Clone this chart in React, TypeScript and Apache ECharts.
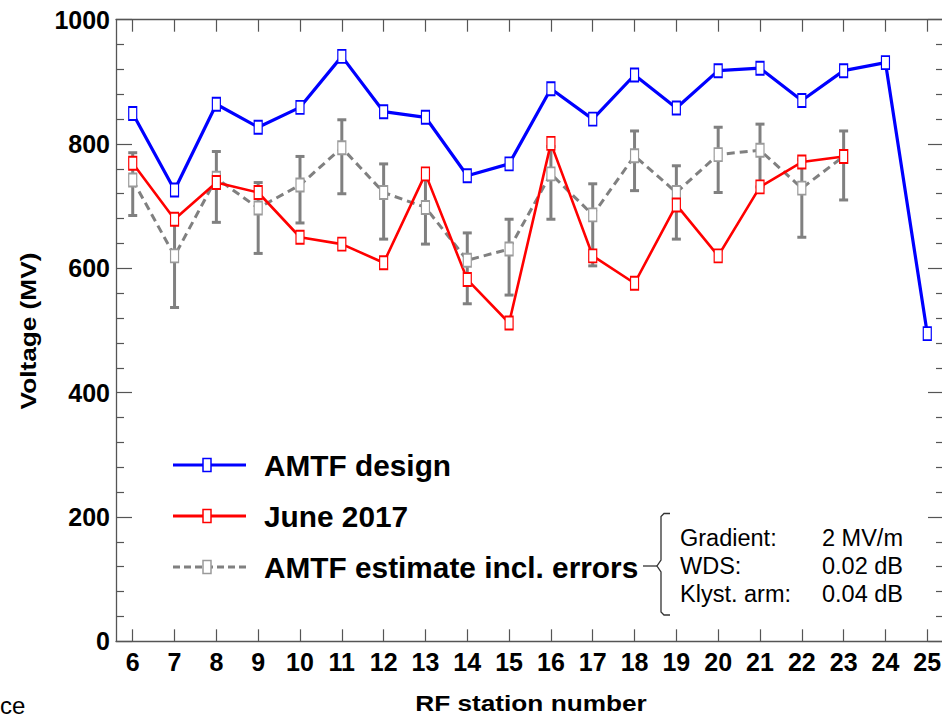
import React, { useEffect, useRef } from "react";
import * as echarts from "echarts";

// RF station numbers along the x axis
const stations = [6, 7, 8, 9, 10, 11, 12, 13, 14, 15, 16, 17, 18, 19, 20, 21, 22, 23, 24, 25];

// Voltage per station (MV)
const amtfDesign = [849, 726, 864, 827, 859, 941, 852, 843, 749, 768, 889, 840, 911, 858, 918, 922, 870, 918, 931, 495];
const june2017 = [769, 679, 738, 722, 650, 639, 609, 752, 582, 512, 801, 620, 576, 702, 620, 731, 771, 780];
const amtfEstimate = [742, 620, 745, 697, 734, 794, 722, 698, 613, 631, 752, 686, 781, 722, 783, 790, 729, 780];
const estimateLow = [685, 537, 674, 624, 673, 720, 647, 639, 543, 557, 679, 604, 725, 647, 722, 731, 650, 710];
const estimateHigh = [786, 671, 788, 738, 780, 839, 768, 745, 657, 679, 796, 736, 821, 765, 827, 832, 775, 821];

const yTicks = [0, 200, 400, 600, 800, 1000];

const legendNames = ["AMTF design", "June 2017", "AMTF estimate incl. errors"];
const errorSettings = [
  ["Gradient:", "2 MV/m"],
  ["WDS:", "0.02 dB"],
  ["Klyst. arm:", "0.04 dB"],
];

const FONT = "'Liberation Sans', Arial, Helvetica, sans-serif";
const BLUE = "#0000ff";
const RED = "#ff0000";
const GRAY = "#808080";
const AXIS = "#555555";

const toPairs = (vals: number[]) => vals.map((v, i) => [stations[i], v]);

function buildOption(): echarts.EChartsOption {
  const xCommon = {
    type: "value" as const,
    min: 5.6,
    max: 25.4,
    splitLine: { show: false },
    axisLine: { show: true, onZero: false, lineStyle: { color: AXIS, width: 1.3 } },
    axisTick: {
      show: true,
      inside: true,
      length: 12,
      customValues: stations,
      lineStyle: { color: AXIS, width: 1.2 },
    },
  };
  const yCommon = {
    type: "value" as const,
    min: yTicks[0],
    max: yTicks[yTicks.length - 1],
    interval: 200,
    splitLine: { show: false },
    minorSplitLine: { show: false },
    axisLine: { show: true, onZero: false, lineStyle: { color: AXIS, width: 1.3 } },
    axisTick: { show: true, inside: true, length: 16, lineStyle: { color: AXIS, width: 1.2 } },
    minorTick: { show: true, splitNumber: 5, length: 8, lineStyle: { color: AXIS, width: 1.2 } },
  };

  const legendRows = [
    { y: 465, color: BLUE, marker: BLUE, dash: null as number[] | null },
    { y: 516, color: RED, marker: RED, dash: null },
    { y: 567, color: GRAY, marker: "#9a9a9a", dash: [7, 4] },
  ];

  const graphics: any[] = [];
  legendRows.forEach((row, i) => {
    graphics.push({
      type: "line",
      shape: { x1: 173, y1: row.y, x2: 246, y2: row.y },
      style: { stroke: row.color, lineWidth: 3, lineDash: row.dash || undefined },
      silent: true,
    });
    graphics.push({
      type: "rect",
      shape: { x: 203, y: row.y - 6.5, width: 8, height: 13 },
      style: { fill: "#fff", stroke: row.marker, lineWidth: 1.5 },
      silent: true,
    });
    graphics.push({
      type: "text",
      x: 264,
      y: row.y,
      style: {
        text: legendNames[i],
        fontFamily: FONT,
        fontSize: 29.8,
        fontWeight: "bold",
        fill: "#000",
        align: "left",
        verticalAlign: "middle",
      },
      silent: true,
    });
  });

  // curly brace joining the estimate legend entry to its error settings
  graphics.push({
    type: "line",
    shape: { x1: 643, y1: 566, x2: 657, y2: 566 },
    style: { stroke: "#333", lineWidth: 1.3 },
    silent: true,
  });
  graphics.push({
    type: "polyline",
    shape: {
      points: [
        [670, 513.5],
        [664, 513.5],
        [661, 516.5],
        [661, 560],
        [657, 566],
        [661, 572],
        [661, 612],
        [664, 615],
        [670, 615],
      ],
    },
    style: { stroke: "#333", lineWidth: 1.3, fill: "none" },
    silent: true,
  });
  errorSettings.forEach(([label, value], i) => {
    const y = 538 + i * 28;
    graphics.push({
      type: "text",
      x: 680,
      y,
      style: { text: label, fontFamily: FONT, fontSize: 23.5, fill: "#000", align: "left", verticalAlign: "middle" },
      silent: true,
    });
    graphics.push({
      type: "text",
      x: 822,
      y,
      style: { text: value, fontFamily: FONT, fontSize: 23.5, fill: "#000", align: "left", verticalAlign: "middle" },
      silent: true,
    });
  });

  // axis titles
  graphics.push({
    type: "text",
    x: 531,
    y: 703,
    scaleX: 1.22,
    style: {
      text: "RF station number",
      fontFamily: FONT,
      fontSize: 21.5,
      fontWeight: "bold",
      fill: "#000",
      align: "center",
      verticalAlign: "middle",
    },
    silent: true,
  });
  graphics.push({
    type: "text",
    x: 28,
    y: 331,
    rotation: Math.PI / 2,
    scaleX: 1.22,
    style: {
      text: "Voltage (MV)",
      fontFamily: FONT,
      fontSize: 21.5,
      fontWeight: "bold",
      fill: "#000",
      align: "center",
      verticalAlign: "middle",
    },
    silent: true,
  });
  graphics.push({
    type: "text",
    x: 0,
    y: 717,
    style: { text: "ce", fontFamily: FONT, fontSize: 24, fill: "#000", align: "left", verticalAlign: "bottom" },
    silent: true,
  });

  return {
    animation: false,
    backgroundColor: "#ffffff",
    grid: { left: 116, top: 19.7, width: 828, height: 621.6, outerBoundsMode: "none" } as any,
    xAxis: [
      {
        ...xCommon,
        position: "bottom",
        axisLabel: {
          customValues: stations,
          fontFamily: FONT,
          fontSize: 25,
          fontWeight: "bold",
          color: "#000",
          margin: 8,
        },
      },
      { ...xCommon, position: "top", axisLabel: { show: false } },
    ] as any,
    yAxis: [
      {
        ...yCommon,
        position: "left",
        axisLabel: {
          fontFamily: FONT,
          fontSize: 25,
          fontWeight: "bold",
          color: "#000",
          margin: 6,
          formatter: (v: number) => String(v),
        },
      },
      { ...yCommon, position: "right", axisLabel: { show: false } },
    ] as any,
    series: [
      {
        name: "error bars",
        type: "custom",
        xAxisIndex: 0,
        yAxisIndex: 0,
        encode: { x: 0, y: [1, 2] },
        data: estimateLow.map((lo, i) => [stations[i], lo, estimateHigh[i]]),
        renderItem: (_params: any, api: any) => {
          const x = api.value(0);
          const lo = api.coord([x, api.value(1)]);
          const hi = api.coord([x, api.value(2)]);
          const cap = 4.5;
          const style = { stroke: GRAY, lineWidth: 3 };
          return {
            type: "group",
            children: [
              { type: "line", shape: { x1: lo[0], y1: lo[1], x2: hi[0], y2: hi[1] }, style },
              { type: "line", shape: { x1: hi[0] - cap, y1: hi[1], x2: hi[0] + cap, y2: hi[1] }, style },
              { type: "line", shape: { x1: lo[0] - cap, y1: lo[1], x2: lo[0] + cap, y2: lo[1] }, style },
            ],
          };
        },
      } as any,
      {
        name: legendNames[2],
        type: "line",
        data: toPairs(amtfEstimate),
        symbol: "rect",
        symbolSize: [8, 13],
        showAllSymbol: true,
        lineStyle: { color: GRAY, width: 3, type: [8, 5] },
        itemStyle: { color: "#fff", borderColor: "#9a9a9a", borderWidth: 1.5 },
      },
      {
        name: legendNames[1],
        type: "line",
        data: toPairs(june2017),
        symbol: "rect",
        symbolSize: [8, 13],
        showAllSymbol: true,
        lineStyle: { color: RED, width: 2.6 },
        itemStyle: { color: "#fff", borderColor: RED, borderWidth: 1.5 },
      },
      {
        name: legendNames[0],
        type: "line",
        data: toPairs(amtfDesign),
        symbol: "rect",
        symbolSize: [8, 13],
        showAllSymbol: true,
        lineStyle: { color: BLUE, width: 3.2 },
        itemStyle: { color: "#fff", borderColor: BLUE, borderWidth: 1.5 },
      },
    ],
    graphic: graphics,
  };
}

export default function App() {
  const ref = useRef<HTMLDivElement>(null);
  useEffect(() => {
    if (!ref.current) return;
    const chart = echarts.init(ref.current, null, { renderer: "svg" });
    chart.setOption(buildOption());
    return () => chart.dispose();
  }, []);
  return (
    <div
      ref={ref}
      style={{ position: "fixed", left: 0, top: 0, width: 942, height: 717, background: "#ffffff" }}
    />
  );
}
